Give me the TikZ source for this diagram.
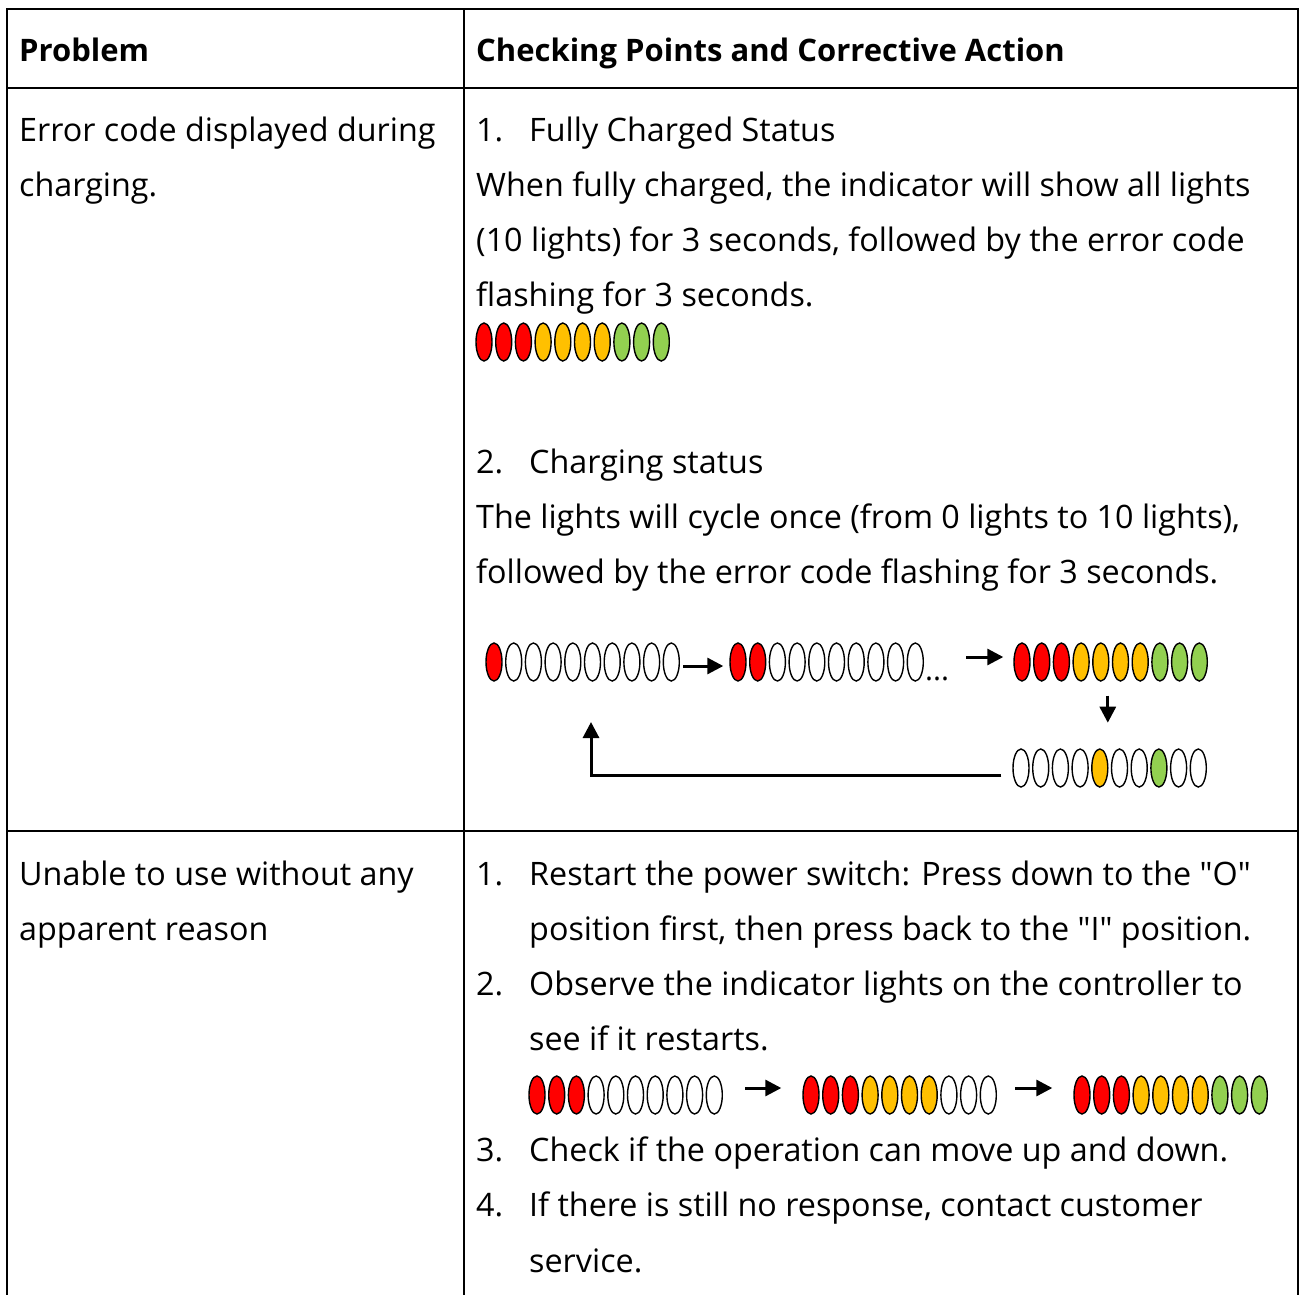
\documentclass[tikz,border=0pt]{standalone}
\usepackage{fontspec}
\setmainfont{Open Sans}[Ligatures=TeXOff]
\usetikzlibrary{arrows.meta,shapes.geometric}
\definecolor{ledred}{HTML}{FF0000}
\definecolor{ledyel}{HTML}{FFC000}
\definecolor{ledgrn}{HTML}{92D050}
\tikzset{
 led/.style={ellipse, draw=black, line width=1.4pt, minimum width=16pt, minimum height=38pt, inner sep=0pt},
 txt/.style={anchor=base west, inner sep=0pt, font=\fontsize{32.3}{36}\selectfont},
 hdr/.style={anchor=base west, inner sep=0pt, font=\fontsize{31}{36}\selectfont\bfseries},
 arr/.style={line width=3pt, -{Triangle[length=16pt,width=16pt]}},
 gridline/.style={line width=2.6pt}
}
\newcommand{\ledgroup}[4]{%
 \foreach \c [count=\i from 0] in {#4} {
   \node[led, fill=\c] (#1-\i) at ({#2+8+\i*19.7},#3) {};
 }}
\begin{document}
\begin{tikzpicture}[x=1pt,y=-1pt]
\useasboundingbox (0,0) rectangle (1299,1294);
% table grid
\draw[gridline] (7,1300) -- (7,9) -- (1298,9) -- (1298,1300);
\draw[gridline] (7,88) -- (1298,88);
\draw[gridline] (7,831) -- (1298,831);
\draw[gridline] (464,9) -- (464,1300);
% header
\node[hdr] (h1) at (19,61) {Problem};
\node[hdr] (h2) at (476,61) {Checking Points and Corrective Action};
% row 1 left
\node[txt] (p1a) at (19,141) {Error code displayed during};
\node[txt] (p1b) at (19,196) {charging.};
% row 1 right
\node[txt] (n11) at (476,141) {1.};
\node[txt] (c11) at (529,141) {Fully Charged Status};
\node[txt] (c12) at (476,196) {When fully charged, the indicator will show all lights};
\node[txt] (c13) at (476,251) {(10 lights) for 3 seconds, followed by the error code};
\node[txt] (c14) at (476,306) {flashing for 3 seconds.};
\ledgroup{g0}{476}{342}{ledred,ledred,ledred,ledyel,ledyel,ledyel,ledyel,ledgrn,ledgrn,ledgrn}
\node[txt] (n12) at (476,473) {2.};
\node[txt] (c21) at (529,473) {Charging status};
\node[txt] (c22) at (476,528) {The lights will cycle once (from 0 lights to 10 lights),};
\node[txt] (c23) at (476,583) {followed by the error code flashing for 3 seconds.};
% cycle
\ledgroup{ga}{486}{662}{ledred,white,white,white,white,white,white,white,white,white}
\ledgroup{gb}{730}{662}{ledred,ledred,white,white,white,white,white,white,white,white}
\node[txt, font=\fontsize{30}{36}\selectfont] (dots) at (925,680) {...};
\ledgroup{gc}{1014}{662}{ledred,ledred,ledred,ledyel,ledyel,ledyel,ledyel,ledgrn,ledgrn,ledgrn}
\ledgroup{gd}{1013}{768}{white,white,white,white,ledyel,white,white,ledgrn,white,white}
\draw[arr] ([xshift=3pt,yshift=-4pt]ga-9.east) -- ([xshift=-6pt,yshift=-4pt]gb-0.west);
\draw[arr] ([xshift=-47pt,yshift=5pt]gc-0.west) -- ([xshift=-10pt,yshift=5pt]gc-0.west);
\draw[arr] ([xshift=7pt,yshift=-14pt]gc-4.south) -- ++(0,27);
\coordinate (ret) at (591,722);
\draw[arr] ([xshift=-11pt,yshift=-7pt]gd-0.west) -- (591,775) -- (ret);
% row 2 left
\node[txt] (p2a) at (19,885) {Unable to use without any};
\node[txt] (p2b) at (19,940) {apparent reason};
% row 2 right
\node[txt] (n21) at (476,885) {1.};
\node[txt] (d11) at (529,885) {Restart the power switch: Press down to the "O"};
\node[txt] (d12) at (529,940) {position first, then press back to the "I" position.};
\node[txt] (n22) at (476,995) {2.};
\node[txt] (d21) at (529,995) {Observe the indicator lights on the controller to};
\node[txt] (d22) at (529,1050) {see if it restarts.};
\ledgroup{ge}{529}{1095}{ledred,ledred,ledred,white,white,white,white,white,white,white}
\ledgroup{gf}{803}{1095}{ledred,ledred,ledred,ledyel,ledyel,ledyel,ledyel,white,white,white}
\ledgroup{gg}{1074}{1095}{ledred,ledred,ledred,ledyel,ledyel,ledyel,ledyel,ledgrn,ledgrn,ledgrn}
\draw[arr] ([xshift=22pt,yshift=7pt]ge-9.east) -- ([xshift=-21pt,yshift=7pt]gf-0.west);
\draw[arr] ([xshift=18pt,yshift=7pt]gf-9.east) -- ([xshift=-21pt,yshift=7pt]gg-0.west);
\node[txt] (n23) at (476,1161) {3.};
\node[txt] (d31) at (529,1161) {Check if the operation can move up and down.};
\node[txt] (n24) at (476,1216) {4.};
\node[txt] (d41) at (529,1216) {If there is still no response, contact customer};
\node[txt] (d42) at (529,1272) {service.};
\end{tikzpicture}
\end{document}
